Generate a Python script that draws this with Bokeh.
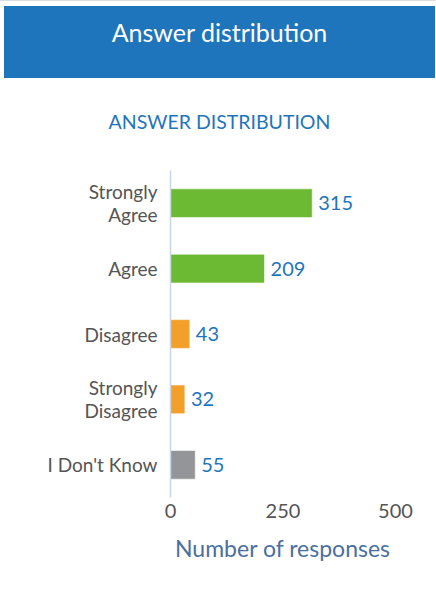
from bokeh.plotting import figure
from bokeh.models import Range1d, FactorRange, ColumnDataSource, FixedTicker, Div
from bokeh.layouts import column
from bokeh.embed import file_html
from bokeh.resources import INLINE
from bokeh.core.properties import value

header_title = "Answer distribution"
chart_title = "ANSWER DISTRIBUTION"
categories = ["Strongly\nAgree", "Agree", "Disagree", "Strongly\nDisagree", "I Don't Know"]
counts = [315, 209, 43, 32, 55]
bar_colors = ["#6cb933", "#6cb933", "#f2a02a", "#f2a02a", "#949599"]
x_ticks = [0, 250, 500]
x_label = "Number of responses"

FONT = "Lato"
BLUE = "#1f75bc"

head_html = (
    f'<div style="background-color:{BLUE};color:white;font-family:{FONT};font-size:25px;'
    f'text-align:center;line-height:52px;height:72px;width:431px;">{header_title}</div>'
    f'<div style="color:{BLUE};font-family:{FONT};font-size:19.5px;text-align:center;'
    f'line-height:88px;height:87px;width:431px;background:white;">{chart_title}</div>'
)
hdr = Div(text=head_html, width=431, height=159)

src = ColumnDataSource(dict(cat=categories, n=counts, color=bar_colors,
                            lab=[str(c) for c in counts]))

p = figure(width=431, height=426, y_range=FactorRange(factors=list(reversed(categories)), range_padding=0),
           x_range=Range1d(0, 500), toolbar_location=None, output_backend="svg",
           min_border_left=171, min_border_right=35, min_border_top=0, min_border_bottom=99)
p.outline_line_color = None
p.grid.visible = False
p.background_fill_color = "white"
p.border_fill_color = "white"

p.hbar(y="cat", right="n", height=0.44, left=0, color="color", line_color="#ffffff",
       line_alpha=0.6, line_width=1, source=src)
p.text(x="n", y="cat", text="lab", x_offset=6, text_baseline="middle", text_align="left",
       text_color=BLUE, text_font=value(FONT), text_font_size="20px", source=src)

xa = p.xaxis[0]
xa.ticker = FixedTicker(ticks=x_ticks)
xa.axis_line_color = None
xa.major_tick_line_color = None
xa.minor_tick_line_color = None
xa.major_tick_out = 0
xa.major_label_text_font = FONT
xa.major_label_text_font_size = "20px"
xa.major_label_text_color = "#555555"
xa.major_label_standoff = 6
xa.axis_label = x_label
xa.axis_label_text_font = FONT
xa.axis_label_text_font_style = "normal"
xa.axis_label_text_font_size = "23px"
xa.axis_label_text_color = "#4a6fa0"
xa.axis_label_standoff = 13

ya = p.yaxis[0]
ya.axis_line_color = "#c8d6e6"
ya.axis_line_width = 1.5
ya.major_tick_line_color = None
ya.minor_tick_line_color = None
ya.major_tick_out = 0
ya.major_label_text_font = FONT
ya.major_label_text_font_size = "19px"
ya.major_label_text_color = "#555555"
ya.major_label_text_line_height = 1.0
ya.major_label_standoff = 13

layout = column(hdr, p, spacing=0, margin=(0, 0, 0, -3),
                styles={"border-left": "2px solid #dcdcdc", "border-top": "1px solid #dcdcdc"})

open("out.html", "w").write(file_html(layout, INLINE))
